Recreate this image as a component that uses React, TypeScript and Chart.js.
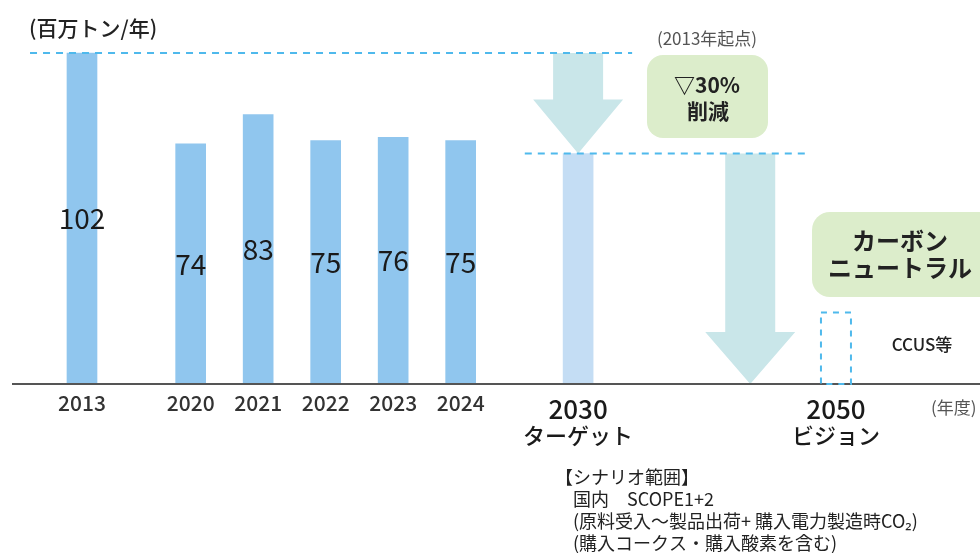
import React, { useEffect, useRef } from "react";
import { Chart, registerables } from "chart.js";

Chart.register(...registerables);

// ---- data ----
const CATEGORIES = ["2013", "2020", "2021", "2022", "2023", "2024"];
const EMISSIONS = [102, 74, 83, 75, 76, 75];
const TARGET_CATEGORY = ["2030", "ターゲット"];
const TARGET_VALUE = 71;
const VISION_CATEGORY = ["2050", "ビジョン"];
const VISION_VALUE = 22;
const UNIT_LABEL = "(百万トン/年)";
const YEAR_UNIT = "(年度)";
const BASE_NOTE = "(2013年起点)";
const REDUCTION_TEXT = ["▽30%", "削減"];
const NEUTRAL_TEXT = ["カーボン", "ニュートラル"];
const CCUS_TEXT = "CCUS等";
const FOOTNOTES = [
  "【シナリオ範囲】",
  "　国内　SCOPE1+2",
  "　(原料受入〜製品出荷+ 購入電力製造時CO₂)",
  "　(購入コークス・購入酸素を含む)",
];

// ---- layout (slot positions on the x axis) ----
const SLOTS = [0, 1.61, 2.61, 3.61, 4.61, 5.61];
const TARGET_SLOT = 7.35;
const VISION_SLOT = 11.17;
const ARROW2_SLOT = 9.9;

const FONT = '"Noto Sans CJK JP", "Noto Sans", sans-serif';

export default function App() {
  const ref = useRef<HTMLCanvasElement>(null);

  useEffect(() => {
    const canvas = ref.current!;
    const deco = {
      id: "deco",
      beforeDatasetsDraw(chart: any) {
        const { ctx } = chart;
        const xs = chart.scales.x;
        const ys = chart.scales.y;
        const arrow = (xc: number, y1: number, y2: number, headH: number) => {
          const top = ys.getPixelForValue(y1);
          const tip = ys.getPixelForValue(y2);
          const sw = 25;
          const hw = 45;
          ctx.save();
          ctx.fillStyle = "#c9e6e9";
          ctx.beginPath();
          ctx.moveTo(xc - sw, top);
          ctx.lineTo(xc + sw, top);
          ctx.lineTo(xc + sw, tip - headH);
          ctx.lineTo(xc + hw, tip - headH);
          ctx.lineTo(xc, tip);
          ctx.lineTo(xc - hw, tip - headH);
          ctx.lineTo(xc - sw, tip - headH);
          ctx.closePath();
          ctx.fill();
          ctx.restore();
        };
        arrow(xs.getPixelForValue(TARGET_SLOT), EMISSIONS[0], TARGET_VALUE, 54);
        arrow(xs.getPixelForValue(ARROW2_SLOT), TARGET_VALUE, 0, 52);
      },
      afterDatasetsDraw(chart: any) {
        const { ctx, chartArea } = chart;
        const xs = chart.scales.x;
        const ys = chart.scales.y;
        const base = ys.getPixelForValue(0);

        // baseline
        ctx.save();
        ctx.strokeStyle = "#555";
        ctx.lineWidth = 2;
        ctx.beginPath();
        ctx.moveTo(chartArea.left, base);
        ctx.lineTo(chartArea.right, base);
        ctx.stroke();

        // dashed reference lines
        ctx.strokeStyle = "#4fb9ec";
        ctx.setLineDash([7, 6]);
        ctx.lineWidth = 2;
        const y102 = ys.getPixelForValue(EMISSIONS[0]);
        ctx.beginPath();
        ctx.moveTo(xs.getPixelForValue(-0.77), y102);
        ctx.lineTo(xs.getPixelForValue(8.15), y102);
        ctx.stroke();
        const yT = ys.getPixelForValue(TARGET_VALUE);
        ctx.beginPath();
        ctx.moveTo(xs.getPixelForValue(6.56), yT);
        ctx.lineTo(xs.getPixelForValue(10.71), yT);
        ctx.stroke();

        // vision dashed box
        const meta = chart.getDatasetMeta(2);
        const el = meta.data[0] as any;
        if (el) {
          const p = el.getProps(["x", "y", "base", "width"], true);
          ctx.lineWidth = 2;
          ctx.setLineDash([6, 6]);
          ctx.strokeRect(p.x - p.width / 2, p.y, p.width, p.base - p.y);
        }
        ctx.setLineDash([]);

        // bar value labels
        ctx.fillStyle = "#1a1a1a";
        ctx.textAlign = "center";
        ctx.textBaseline = "middle";
        ctx.font = `400 28px ${FONT}`;
        EMISSIONS.forEach((v, i) => {
          ctx.fillText(String(v), xs.getPixelForValue(SLOTS[i]), ys.getPixelForValue(v / 2));
        });

        // category labels
        ctx.fillStyle = "#333";
        ctx.font = `500 21px ${FONT}`;
        CATEGORIES.forEach((c, i) => {
          ctx.fillText(c, xs.getPixelForValue(SLOTS[i]), base + 19);
        });
        ctx.fillStyle = "#1a1a1a";
        const big = (lines: string[], slot: number) => {
          const x = xs.getPixelForValue(slot);
          ctx.font = `500 26px ${FONT}`;
          ctx.fillText(lines[0], x, base + 25);
          ctx.font = `500 22px ${FONT}`;
          ctx.fillText(lines[1], x, base + 52);
        };
        big(TARGET_CATEGORY, TARGET_SLOT);
        big(VISION_CATEGORY, VISION_SLOT);

        ctx.fillStyle = "#555";
        ctx.font = `400 17px ${FONT}`;
        ctx.textAlign = "left";
        ctx.fillText(YEAR_UNIT, 931, base + 24);

        // unit
        ctx.fillStyle = "#222";
        ctx.font = `500 21px ${FONT}`;
        ctx.fillText(UNIT_LABEL, 29, 28);

        // note
        ctx.fillStyle = "#555";
        ctx.font = `400 17px ${FONT}`;
        ctx.textAlign = "center";
        ctx.fillText(BASE_NOTE, 707, 39);

        // green boxes
        const rbox = (x: number, y: number, w: number, h: number, r: number) => {
          ctx.fillStyle = "#dcedcb";
          ctx.beginPath();
          ctx.roundRect(x, y, w, h, r);
          ctx.fill();
        };
        rbox(647, 55, 121, 83, 16);
        ctx.fillStyle = "#222";
        ctx.font = `600 21px ${FONT}`;
        ctx.fillText(REDUCTION_TEXT[0], 707, 85);
        ctx.fillText(REDUCTION_TEXT[1], 708, 111);

        rbox(812, 212, 190, 85, 18);
        ctx.fillStyle = "#222";
        ctx.font = `600 24px ${FONT}`;
        ctx.fillText(NEUTRAL_TEXT[0], 900, 241);
        ctx.fillText(NEUTRAL_TEXT[1], 900, 268);

        ctx.font = `500 17px ${FONT}`;
        ctx.fillText(CCUS_TEXT, 922, 345);

        // footnotes
        ctx.textAlign = "left";
        ctx.fillStyle = "#222";
        ctx.font = `400 18px ${FONT}`;
        FOOTNOTES.forEach((t, i) => {
          ctx.fillText(t, 555, 477 + i * 22);
        });
        ctx.restore();
      },
    };

    const chart = new Chart(canvas, {
      type: "bar",
      data: {
        datasets: [
          {
            label: "actual",
            data: EMISSIONS.map((v, i) => ({ x: SLOTS[i], y: v })),
            backgroundColor: "#90c6ee",
          },
          {
            label: "target",
            data: [{ x: TARGET_SLOT, y: TARGET_VALUE }],
            backgroundColor: "#c4ddf4",
          },
          {
            label: "vision",
            data: [{ x: VISION_SLOT, y: VISION_VALUE }],
            backgroundColor: "rgba(0,0,0,0)",
            borderColor: "#4fb9ec",
          },
        ] as any,
      },
      options: {
        animation: false,
        responsive: false,
        maintainAspectRatio: false,
        layout: { padding: { left: 12, right: 0, top: 27, bottom: 169 } },
        datasets: { bar: { barThickness: 30, grouped: false } } as any,
        plugins: { legend: { display: false }, tooltip: { enabled: false } },
        scales: {
          x: { type: "linear", display: false, offset: false, min: -1.037, max: 13.304 },
          y: { display: false, min: 0, max: 110 },
        },
      },
      plugins: [deco],
    });
    return () => chart.destroy();
  }, []);

  return (
    <div style={{ position: "fixed", left: 0, top: 0, width: 980, height: 553, background: "#fff" }}>
      <canvas ref={ref} width={980} height={553} style={{ width: 980, height: 553 }} />
    </div>
  );
}
